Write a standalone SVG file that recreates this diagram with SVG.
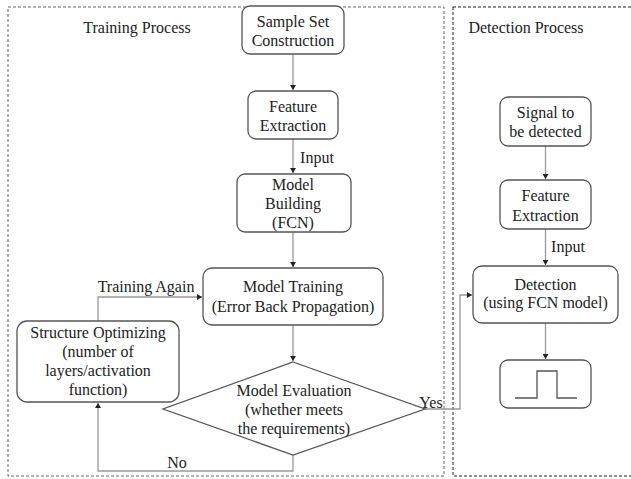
<svg xmlns="http://www.w3.org/2000/svg" width="631" height="479" viewBox="0 0 631 479">
<style>
text{font-family:'Liberation Serif','Times New Roman',Times,'DejaVu Serif',serif;font-size:16px;fill:#222;text-anchor:middle}
.node{fill:#fff;stroke:#555;stroke-width:1.3}
.conn{fill:none;stroke:#999;stroke-width:1.3}
.frame{fill:none;stroke-width:1;stroke-dasharray:3,2}
</style>
<defs>
<marker id="ah" markerWidth="6" markerHeight="6" refX="5" refY="3" orient="auto" markerUnits="userSpaceOnUse">
<path d="M0,0 L5,3 L0,6 Z" fill="#222"/>
</marker>
</defs>
<rect width="631" height="479" fill="#fff"/>
<g font-family="Liberation Serif, serif">
<g id="frames">
<rect class="frame" x="8" y="7" width="436" height="469" stroke="#666"/>
<rect class="frame" x="453" y="7" width="180" height="469" stroke="#222"/>
<text x="137" y="33">Training Process</text>
<text x="526" y="33">Detection Process</text>
</g>
<g id="connectors">
<line class="conn" x1="293" y1="54" x2="293" y2="90" marker-end="url(#ah)"/>
<line class="conn" x1="293" y1="139" x2="293" y2="173" marker-end="url(#ah)"/>
<text x="317" y="163">Input</text>
<line class="conn" x1="293" y1="232" x2="293" y2="267" marker-end="url(#ah)"/>
<line class="conn" x1="293" y1="325" x2="293" y2="361" marker-end="url(#ah)"/>
<polyline class="conn" points="98,321 98,297 202,297" marker-end="url(#ah)"/>
<text x="146" y="292">Training Again</text>
<polyline class="conn" points="293,455 293,471 98,471 98,403" marker-end="url(#ah)"/>
<text x="177" y="468">No</text>
<polyline class="conn" points="425,409 460,409 460,295 472,295" marker-end="url(#ah)"/>
<text x="431" y="408">Yes</text>
<line class="conn" x1="545.5" y1="146" x2="545.5" y2="179" marker-end="url(#ah)"/>
<line class="conn" x1="545.5" y1="229" x2="545.5" y2="265" marker-end="url(#ah)"/>
<text x="568" y="252">Input</text>
<line class="conn" x1="545.5" y1="323" x2="545.5" y2="359" marker-end="url(#ah)"/>
</g>
<g id="sample-set">
<rect class="node" x="242" y="6" width="102" height="48" rx="8"/>
<text x="293" y="27">Sample Set</text>
<text x="293" y="46">Construction</text>
</g>
<g id="feature-extraction-train">
<rect class="node" x="248" y="91" width="90" height="48" rx="8"/>
<text x="293" y="112">Feature</text>
<text x="293" y="131">Extraction</text>
</g>
<g id="model-building">
<rect class="node" x="237" y="174" width="114" height="58" rx="8"/>
<text x="293" y="190">Model</text>
<text x="293" y="209">Building</text>
<text x="293" y="228">(FCN)</text>
</g>
<g id="model-training">
<rect class="node" x="203" y="268" width="180" height="57" rx="9"/>
<text x="293" y="292">Model Training</text>
<text x="293" y="312">(Error Back Propagation)</text>
</g>
<g id="structure-optimizing">
<rect class="node" x="17" y="321" width="162" height="81" rx="10"/>
<text x="98" y="338">Structure Optimizing</text>
<text x="98" y="357">(number of</text>
<text x="98" y="376">layers/activation</text>
<text x="98" y="395">function)</text>
</g>
<g id="model-evaluation">
<polygon class="node" points="293,362 425,409 293,455 163,409"/>
<text x="294" y="396">Model Evaluation</text>
<text x="294" y="415">(whether meets</text>
<text x="294" y="434">the requirements)</text>
</g>
<g id="signal">
<rect class="node" x="500" y="97" width="91" height="49" rx="8"/>
<text x="545.5" y="118">Signal to</text>
<text x="545.5" y="137">be detected</text>
</g>
<g id="feature-extraction-detect">
<rect class="node" x="500" y="180" width="91" height="49" rx="8"/>
<text x="545.5" y="201">Feature</text>
<text x="545.5" y="221">Extraction</text>
</g>
<g id="detection">
<rect class="node" x="473" y="266" width="145" height="57" rx="9"/>
<text x="545.5" y="290">Detection</text>
<text x="545.5" y="308">(using FCN model)</text>
</g>
<g id="pulse-output">
<rect class="node" x="500" y="360" width="91" height="48" rx="8"/>
<polyline points="515,398 537,398 537,371 557,371 557,398 577,398" fill="none" stroke="#555" stroke-width="1.3"/>
</g>
</g>
</svg>
